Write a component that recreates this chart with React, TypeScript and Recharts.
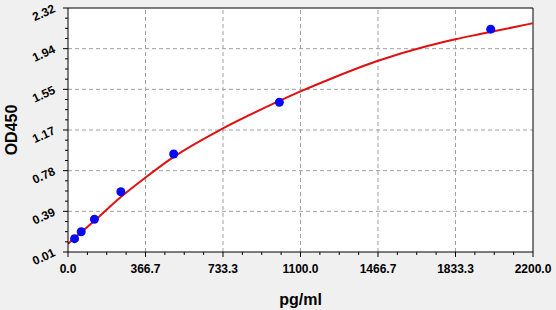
import {
  ComposedChart,
  Label,
  Line,
  ReferenceArea,
  ReferenceLine,
  Scatter,
  XAxis,
  YAxis,
} from "recharts";

// standards (measured points)
const standardConc = [31.25, 62.5, 125, 250, 500, 1000, 2000];
const standardOD = [0.136, 0.202, 0.32, 0.58, 0.938, 1.428, 2.12];

// fitted curve
const curveConc = [0, 125, 250, 367, 500, 733, 1000, 1100, 1250, 1467, 1700, 1833, 1950, 2200];
const curveOD = [0.087, 0.305, 0.53, 0.715, 0.91, 1.18, 1.44, 1.53, 1.655, 1.82, 1.96, 2.024, 2.073, 2.176];

const xMajor = [0, 366.7, 733.3, 1100, 1466.7, 1833.3, 2200];
const xLabels = ["0.0", "366.7", "733.3", "1100.0", "1466.7", "1833.3", "2200.0"];
const yMajor = [0.01, 0.395, 0.78, 1.165, 1.55, 1.935, 2.32];
const yLabels = ["0.01", "0.39", "0.78", "1.17", "1.55", "1.94", "2.32"];

const withMinor = (major: number[]) => {
  const out: number[] = [];
  major.forEach((v, i) => {
    out.push(v);
    if (i < major.length - 1) {
      const step = (major[i + 1] - v) / 4;
      for (let k = 1; k < 4; k++) out.push(v + step * k);
    }
  });
  return out;
};

const points = standardConc.map((c, i) => ({ x: c, y: standardOD[i] }));
const curve = curveConc.map((c, i) => ({ x: c, y: curveOD[i] }));

const FONT = "'Liberation Sans', Arial, sans-serif";

const XTick = (props: any) => {
  const { x, y, payload } = props;
  const i = xMajor.indexOf(payload.value);
  const major = i >= 0;
  return (
    <g>
      <line x1={x} x2={x} y1={y} y2={y + (major ? 5 : 3)} stroke="#000" />
      {major && (
        <text x={x} y={y + 20.5} textAnchor="middle" fontSize={12} fontWeight="bold" fontFamily={FONT} fill="#000">
          {xLabels[i]}
        </text>
      )}
    </g>
  );
};

const YTick = (props: any) => {
  const { x, y, payload } = props;
  const i = yMajor.indexOf(payload.value);
  const major = i >= 0;
  const tx = x - 12;
  const ty = y + 3.5;
  return (
    <g>
      <line x1={x - (major ? 5 : 3)} x2={x} y1={y} y2={y} stroke="#000" />
      {major && (
        <text
          x={tx}
          y={ty}
          textAnchor="end"
          transform={`rotate(-25 ${tx} ${ty})`}
          fontSize={12}
          fontWeight="bold"
          fontFamily={FONT}
          fill="#000"
        >
          {yLabels[i]}
        </text>
      )}
    </g>
  );
};

export default function App() {
  return (
    <div style={{ position: "absolute", left: 0, top: 0, width: 556, height: 310, background: "#f0f0f0" }}>
      <ComposedChart width={556} height={310} margin={{ top: 8, right: 23, bottom: 0, left: 0 }}>
        <XAxis
          type="number"
          dataKey="x"
          domain={[0, 2200]}
          ticks={withMinor(xMajor)}
          interval={0}
          tick={<XTick />}
          tickLine={false}
          tickSize={0}
          tickMargin={0}
          height={58}
          axisLine={{ stroke: "#000" }}
          allowDataOverflow
        >
          <Label
            content={() => (
              <text x={300.5} y={305} textAnchor="middle" fontSize={16} fontWeight="bold" fontFamily={FONT} fill="#000">
                pg/ml
              </text>
            )}
          />
        </XAxis>
        <YAxis
          type="number"
          dataKey="y"
          domain={[0.01, 2.32]}
          ticks={withMinor(yMajor)}
          interval={0}
          tick={<YTick />}
          tickLine={false}
          tickSize={0}
          tickMargin={0}
          width={68}
          axisLine={{ stroke: "#000" }}
          allowDataOverflow
        >
          <Label
            content={() => (
              <text
                x={17}
                y={130}
                textAnchor="middle"
                transform="rotate(-90 17 130)"
                fontSize={16}
                fontWeight="bold"
                fontFamily={FONT}
                fill="#000"
              >
                OD450
              </text>
            )}
          />
        </YAxis>
        <ReferenceArea x1={0} x2={2200} y1={0.01} y2={2.32} fill="#ffffff" fillOpacity={1} stroke="none" />
        {xMajor.slice(1, -1).map((v) => (
          <ReferenceLine key={"gx" + v} x={v} stroke="#a0a0a0" strokeDasharray="4 3" />
        ))}
        {yMajor.slice(1, -1).map((v) => (
          <ReferenceLine key={"gy" + v} y={v} stroke="#a0a0a0" strokeDasharray="4 3" />
        ))}
        <ReferenceLine x={2200} stroke="#000" />
        <ReferenceLine y={2.32} stroke="#000" />
        <Scatter
          data={points}
          dataKey="y"
          isAnimationActive={false}
          shape={(p: any) => <circle cx={p.cx} cy={p.cy} r={4.5} fill="#0a0af0" />}
        />
        <Line
          data={curve}
          dataKey="y"
          type="monotone"
          stroke="#e01010"
          strokeWidth={2}
          dot={false}
          activeDot={false}
          isAnimationActive={false}
        />
      </ComposedChart>
    </div>
  );
}
